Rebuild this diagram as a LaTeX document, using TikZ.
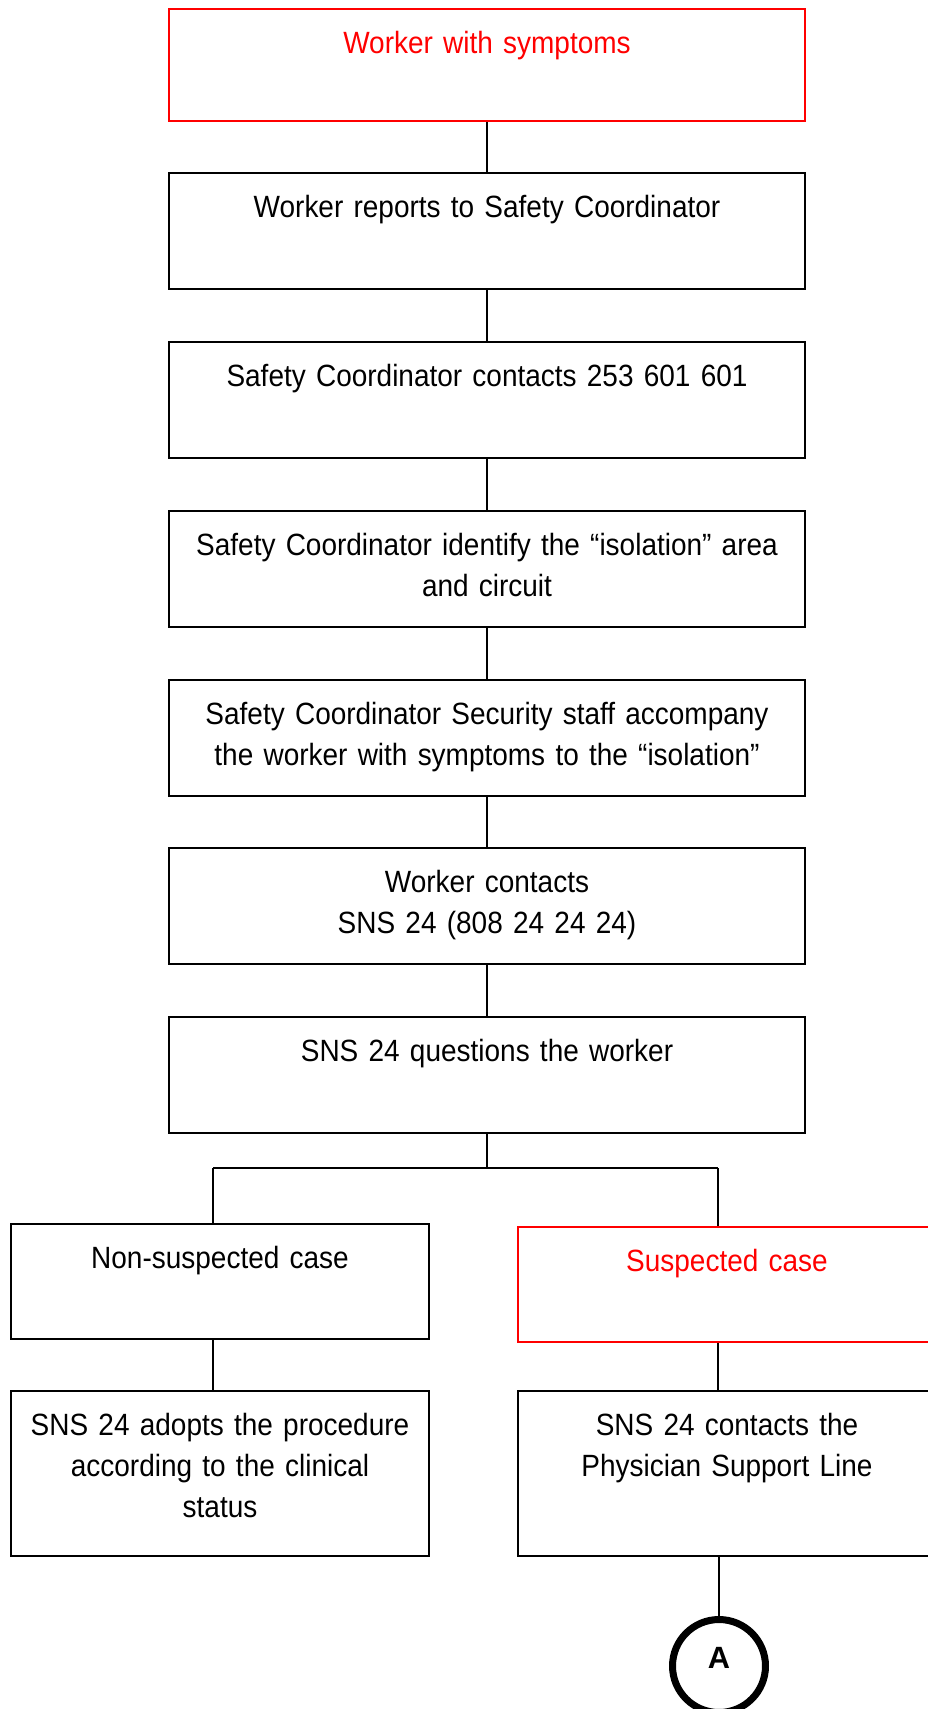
\documentclass[tikz,border=0pt]{standalone}
\usepackage{fontspec}
\setmainfont{Liberation Sans}[FakeStretch=0.91, WordSpace=0.75]
\newfontfamily\conletter{Liberation Sans}
\begin{document}
\begin{tikzpicture}[x=0.02cm,y=-0.02cm]
    \tikzset{
    bx/.style={draw=black, line width=1.1pt, inner sep=0pt, align=center, anchor=north, text width=12.74cm, text height=0.9cm, text depth=1.42cm, font=\fontsize{17.5}{23.3}\selectfont},
    sx/.style={bx, text width=8.36cm},
    rx/.style={draw=red, text=red},
    c1/.style={-, line width=1.1pt},
    con/.style={circle, draw, line width=0.14cm, minimum size=1.86cm, inner sep=0pt, text height=0.44cm, text depth=0.36cm, font=\conletter\bfseries\fontsize{17.5}{20}\selectfont},
    }
    \useasboundingbox (0,0) rectangle (927,1709);
    \node[bx, rx, text depth=1.34cm] (n1) at (487,8) {Worker with symptoms};
    \node[bx] (n2) at (487,172) {Worker reports to Safety Coordinator};
    \node[bx] (n3) at (487,341) {Safety Coordinator contacts 253 601 601};
    \node[bx] (n4) at (487,510) {Safety Coordinator identify the “isolation” area\\and circuit};
    \node[bx] (n5) at (487,679) {Safety Coordinator Security staff accompany\\the worker with symptoms to the “isolation”};
    \node[bx] (n6) at (487,847) {Worker contacts\\SNS 24 (808 24 24 24)};
    \node[bx] (n7) at (487,1016) {SNS 24 questions the worker};
    \node[sx, text depth=1.4cm] (n8) at (220,1223) {Non-suspected case};
    \node[sx, rx, text depth=1.4cm] (n9) at (727,1226) {Suspected case};
    \node[sx, text depth=2.4cm] (n10) at (220,1390) {SNS 24 adopts the procedure\\according to the clinical\\status};
    \node[sx, text depth=2.4cm] (n11) at (727,1390) {SNS 24 contacts the\\Physician Support Line};
    \node[con] (nA) at (719,1666) {A};

    \coordinate (fork) at (487,1168);
    \coordinate (forkL) at (213,1168);
    \coordinate (forkR) at (718,1168);

    \draw[c1] (n1) edge (n2);
    \draw[c1] (n2) edge (n3);
    \draw[c1] (n3) edge (n4);
    \draw[c1] (n4) edge (n5);
    \draw[c1] (n5) edge (n6);
    \draw[c1] (n6) edge (n7);
    \draw[c1] (n7) edge (fork);

    \draw[c1] (forkL) edge (forkR);
    \draw[c1] (forkL) edge (forkL |- n8.north);
    \draw[c1] (forkR) edge (forkR |- n9.north);
    \draw[c1] (n8.south -| forkL) edge (forkL |- n10.north);
    \draw[c1] (n9.south -| forkR) edge (forkR |- n11.north);
    \draw[c1] (n11.south -| nA) edge (nA);
\end{tikzpicture}
\end{document}
